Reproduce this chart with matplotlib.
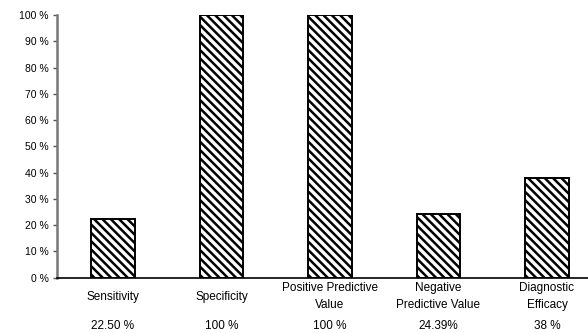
import matplotlib
matplotlib.use("Agg")
import matplotlib.pyplot as plt

categories = ["Sensitivity", "Specificity", "Positive Predictive\nValue",
              "Negative\nPredictive Value", "Diagnostic\nEfficacy"]
values = [22.5, 100, 100, 24.39, 38]
value_labels = ["22.50 %", "100 %", "100 %", "24.39%", "38 %"]
yticks = list(range(0, 101, 10))

plt.rcParams['font.family'] = ['Liberation Sans', 'DejaVu Sans']
plt.rcParams['hatch.linewidth'] = 1.8

fig = plt.figure(figsize=(5.88, 3.33), dpi=100)
ax = fig.add_axes([57 / 588, (333 - 277.7) / 333, 1 - 57 / 588, (277.7 - 15) / 333])

x = list(range(len(categories)))
ax.bar(x, values, width=0.405, color='white', edgecolor='black',
       linewidth=1.4, hatch='\\\\\\\\')

ax.set_ylim(0, 100)
ax.set_xlim(-0.516, (588 - 113) / 108.5)
ax.set_yticks(yticks)
ax.set_yticklabels([f"{t} %" for t in yticks], fontsize=7.5)
ax.set_xticks([])
ax.tick_params(axis='y', length=3, width=1, color='#555555', pad=3)

for s in ['top', 'right']:
    ax.spines[s].set_visible(False)
ax.spines['left'].set_color('#777777')
ax.spines['left'].set_linewidth(1.8)
ax.spines['bottom'].set_color('black')
ax.spines['bottom'].set_linewidth(1.2)

# подписи категорий и значений под осью
trans = ax.get_xaxis_transform()
for xi, cat, lab in zip(x, categories, value_labels):
    ax.text(xi, -0.073, cat, transform=trans, ha='center', va='center',
            fontsize=8.5, linespacing=1.55)
    ax.text(xi, -0.185, lab, transform=trans, ha='center', va='center',
            fontsize=8.5)

fig.savefig('out.png', dpi=100)
